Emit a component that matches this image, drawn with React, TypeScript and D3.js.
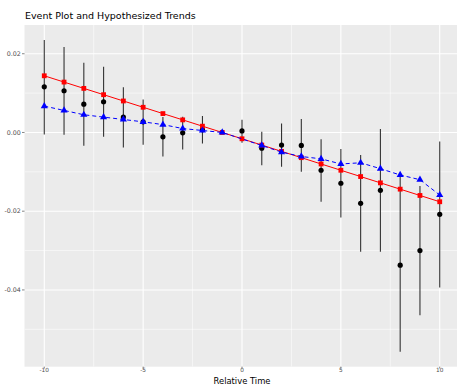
import React from "react";
import * as d3 from "d3";

// Event-study estimates with confidence bounds (reference period t = -1 omitted)
const eventTime = [-10, -9, -8, -7, -6, -5, -4, -3, -2, 0, 1, 2, 3, 4, 5, 6, 7, 8, 9, 10];
const estimate = [0.0116, 0.0106, 0.0072, 0.0078, 0.0039, 0.0027, -0.0011, -0.0001, 0.0007, 0.0004, -0.004, -0.0032, -0.0033, -0.0096, -0.0129, -0.018, -0.0147, -0.0337, -0.03, -0.0208];
const lower = [-0.0005, -0.0006, -0.0034, -0.0011, -0.0038, -0.0031, -0.0061, -0.0043, -0.0028, -0.0026, -0.0083, -0.0087, -0.01, -0.0176, -0.0216, -0.0303, -0.0303, -0.0557, -0.0464, -0.0394];
const upper = [0.0235, 0.0217, 0.0177, 0.0167, 0.0115, 0.0084, 0.0039, 0.004, 0.0042, 0.0032, 0.0002, 0.0023, 0.0034, -0.0017, -0.0042, -0.0057, 0.0009, -0.0106, -0.0136, -0.0023];

// Hypothesized linear trend (red)
const trendTime = [-10, -9, -8, -7, -6, -5, -4, -3, -2, -1, 0, 1, 2, 3, 4, 5, 6, 7, 8, 9, 10];
const trendValue = [0.0144, 0.0128, 0.0112, 0.0096, 0.008, 0.0064, 0.0048, 0.0032, 0.0016, 0, -0.0016, -0.0032, -0.0048, -0.0064, -0.008, -0.0096, -0.0112, -0.0128, -0.0144, -0.016, -0.0176];

// Alternative hypothesized trend (blue)
const altTime = [-10, -9, -8, -7, -6, -5, -4, -3, -2, -1, 1, 2, 3, 4, 5, 6, 7, 8, 9, 10];
const altValue = [0.0067, 0.0056, 0.0045, 0.0039, 0.0033, 0.0027, 0.002, 0.001, 0.0005, 0, -0.0033, -0.005, -0.0061, -0.0067, -0.008, -0.0077, -0.0092, -0.0108, -0.012, -0.0159];

const xTicks = [-10, -5, 0, 5, 10];
const xMinor = [-7.5, -2.5, 2.5, 7.5];
const yTicks = [0.02, 0, -0.02, -0.04];
const yMinor = [0.01, -0.01, -0.03, -0.05];

const W = 457;
const H = 387;
const panel = { left: 24.5, right: 459.5, top: 25, bottom: 366.7 };

export default function App() {
  const x = d3.scaleLinear().domain([-11, 11]).range([panel.left, panel.right]);
  const y = d3.scaleLinear().domain([-0.0595, 0.0273]).range([panel.bottom, panel.top]);

  const trendLine = d3
    .line<number>()
    .x((_, i) => x(trendTime[i]))
    .y((d) => y(d));
  const altLine = d3
    .line<number>()
    .x((_, i) => x(altTime[i]))
    .y((d) => y(d));

  const tri = d3.symbol().type(d3.symbolTriangle).size(22)() as string;
  const font = "DejaVu Sans, sans-serif";
  const pw = W - panel.left;

  return (
    <svg width={W} height={H} style={{ position: "absolute", left: 0, top: 0, background: "#fff" }}>
      <defs>
        <clipPath id="panel-clip">
          <rect x={panel.left} y={panel.top} width={pw} height={panel.bottom - panel.top} />
        </clipPath>
      </defs>
      <text x={25} y={18.5} fontFamily={font} fontSize={9.5} fill="#000">
        Event Plot and Hypothesized Trends
      </text>
      <rect x={panel.left} y={panel.top} width={pw} height={panel.bottom - panel.top} fill="#EBEBEB" />
      <g clipPath="url(#panel-clip)">
        {yMinor.map((v) => (
          <line key={"ym" + v} x1={panel.left} x2={W} y1={y(v)} y2={y(v)} stroke="#fff" strokeWidth={0.55} />
        ))}
        {xMinor.map((v) => (
          <line key={"xm" + v} x1={x(v)} x2={x(v)} y1={panel.top} y2={panel.bottom} stroke="#fff" strokeWidth={0.55} />
        ))}
        {yTicks.map((v) => (
          <line key={"yM" + v} x1={panel.left} x2={W} y1={y(v)} y2={y(v)} stroke="#fff" strokeWidth={1.1} />
        ))}
        {xTicks.map((v) => (
          <line key={"xM" + v} x1={x(v)} x2={x(v)} y1={panel.top} y2={panel.bottom} stroke="#fff" strokeWidth={1.1} />
        ))}

        {eventTime.map((t, i) => (
          <line key={"eb" + t} x1={x(t)} x2={x(t)} y1={y(lower[i])} y2={y(upper[i])} stroke="#333" strokeWidth={1.1} />
        ))}
        {eventTime.map((t, i) => (
          <circle key={"pt" + t} cx={x(t)} cy={y(estimate[i])} r={2.6} fill="#000" />
        ))}

        <path d={trendLine(trendValue) || ""} fill="none" stroke="#FF0000" strokeWidth={1} />
        {trendTime.map((t, i) => (
          <rect key={"sq" + t} x={x(t) - 2.4} y={y(trendValue[i]) - 2.4} width={4.8} height={4.8} fill="#FF0000" />
        ))}

        <path d={altLine(altValue) || ""} fill="none" stroke="#0000FF" strokeWidth={1} strokeDasharray="4,3" />
        {altTime.map((t, i) => (
          <path key={"tr" + t} d={tri} transform={`translate(${x(t)},${y(altValue[i])})`} fill="#0000FF" />
        ))}
      </g>

      {yTicks.map((v) => (
        <g key={"yt" + v}>
          <line x1={panel.left - 2.5} x2={panel.left} y1={y(v)} y2={y(v)} stroke="#333" strokeWidth={0.6} />
          <text x={panel.left - 3.8} y={y(v) + 2.2} textAnchor="end" fontFamily={font} fontSize={6.3} fill="#4D4D4D">
            {v.toFixed(2)}
          </text>
        </g>
      ))}
      {xTicks.map((v) => (
        <g key={"xt" + v}>
          <line x1={x(v)} x2={x(v)} y1={panel.bottom} y2={panel.bottom + 1.8} stroke="#333" strokeWidth={0.6} />
          <text x={x(v)} y={panel.bottom + 5.6} textAnchor="middle" fontFamily={font} fontSize={5.8} fill="#4D4D4D">
            {v}
          </text>
        </g>
      ))}
      <text x={(panel.left + panel.right) / 2} y={384} textAnchor="middle" fontFamily={font} fontSize={8.4} fill="#000">
        Relative Time
      </text>
    </svg>
  );
}
